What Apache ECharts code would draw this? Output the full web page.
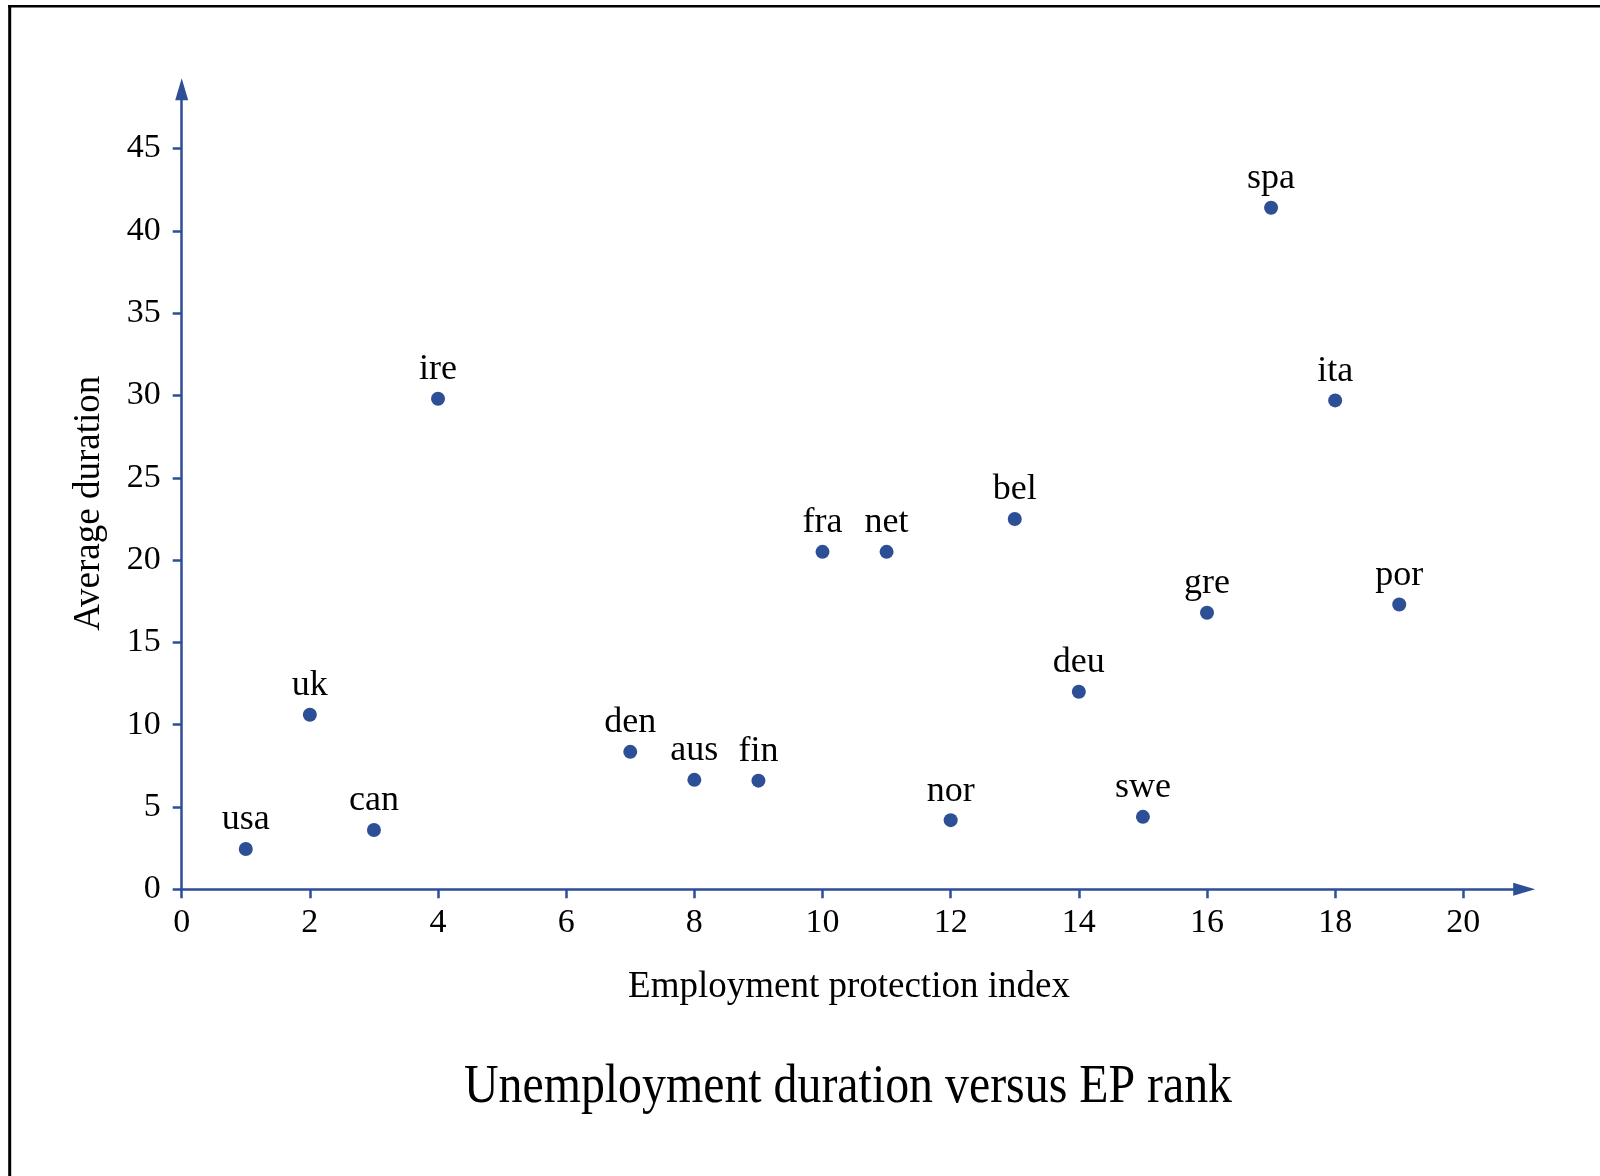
<!DOCTYPE html>
<html>
<head>
<meta charset="utf-8">
<script src="https://cdn.jsdelivr.net/npm/echarts@6/dist/echarts.min.js"></script>
<style>
html,body{margin:0;padding:0;background:#fff;}
#chart{width:1600px;height:1176px;}
</style>
</head>
<body>
<div id="chart"></div>
<script>
const countries = ['usa','uk','can','ire','den','aus','fin','fra','net','nor','bel','deu','swe','gre','spa','ita','por'];
const epIndex   = [1,2,3,4,7,8,9,10,11,12,13,14,15,16,17,18,19];
const avgDuration = [2.45,10.6,3.6,29.8,8.35,6.65,6.6,20.5,20.5,4.2,22.5,12.0,4.4,16.8,41.4,29.7,17.3];
const xTicks = [0,2,4,6,8,10,12,14,16,18,20];
const yTicks = [0,5,10,15,20,25,30,35,40,45];

const AXIS = '#2c4f96';
const FONT = '"Liberation Serif", "Times New Roman", serif';

const points = countries.map((c, i) => [epIndex[i], avgDuration[i], c]);

const chart = echarts.init(document.getElementById('chart'), null, {renderer: 'canvas'});
chart.setOption({
  backgroundColor: '#fff',
  animation: false,
  grid: {left: 181.7, right: 75.8, top: 89.3, bottom: 286.7, containLabel: false},
  xAxis: {
    type: 'value', min: 0, max: 20.95,
    name: 'Employment protection index',
    nameLocation: 'middle', nameGap: 79,
    nameTextStyle: {fontFamily: FONT, fontSize: 37, color: '#000', padding: [0, 8, 0, 0]},
    axisLine: {show: true, onZero: false, symbol: ['none', 'triangle'], symbolSize: [13, 22], lineStyle: {color: AXIS, width: 2.5}},
    axisTick: {show: true, length: 9, lineStyle: {color: AXIS, width: 2.5}, customValues: xTicks},
    axisLabel: {fontFamily: FONT, fontSize: 34, color: '#000', margin: 17, customValues: xTicks},
    splitLine: {show: false}
  },
  yAxis: {
    type: 'value', min: 0, max: 48.6,
    name: 'Average duration',
    nameLocation: 'middle', nameGap: 74,
    nameTextStyle: {fontFamily: FONT, fontSize: 37, color: '#000', padding: [0, 28, 0, 0]},
    axisLine: {show: true, onZero: false, symbol: ['none', 'triangle'], symbolSize: [13, 22], lineStyle: {color: AXIS, width: 2.5}},
    axisTick: {show: true, length: 9, lineStyle: {color: AXIS, width: 2.5}, customValues: yTicks},
    axisLabel: {fontFamily: FONT, fontSize: 34, color: '#000', margin: 21, verticalAlign: 'middle', lineHeight: 40, padding: [5, 0, 0, 0], customValues: yTicks},
    splitLine: {show: false}
  },
  series: [{
    type: 'scatter',
    data: points,
    symbol: 'circle',
    symbolSize: 14,
    itemStyle: {color: AXIS, opacity: 1},
    label: {
      show: true, position: 'top', distance: 4,
      fontFamily: FONT, fontSize: 36, color: '#000',
      formatter: p => p.data[2]
    }
  }],
  graphic: [
    {type: 'line', shape: {x1: 9.7, y1: 5, x2: 9.7, y2: 1176}, style: {stroke: '#000', lineWidth: 3}},
    {type: 'line', shape: {x1: 8, y1: 6.2, x2: 1600, y2: 6.2}, style: {stroke: '#000', lineWidth: 2.4}},
    {type: 'text', x: 848, y: 1088, scaleX: 0.886,
     style: {text: 'Unemployment duration versus EP rank', font: '54px ' + FONT, fill: '#000', align: 'center', verticalAlign: 'middle'}}
  ]
});
</script>
</body>
</html>
